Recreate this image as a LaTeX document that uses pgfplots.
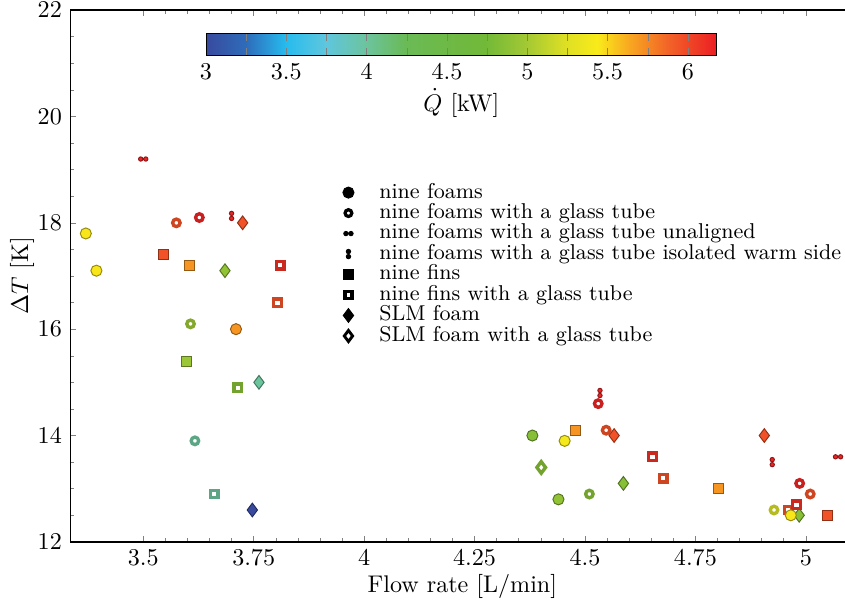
\documentclass[border=0pt]{standalone}
\usepackage{pgfplots}
\pgfplotsset{compat=1.18}
\usetikzlibrary{calc}

% two small dots side by side / one above the other
\pgfdeclareplotmark{hdots}{%
  \pgfpathcircle{\pgfpoint{-1.05pt}{0pt}}{0.9pt}%
  \pgfpathcircle{\pgfpoint{1.05pt}{0pt}}{0.9pt}%
  \pgfusepathqfillstroke}
\pgfdeclareplotmark{vdots}{%
  \pgfpathcircle{\pgfpoint{0pt}{-1.05pt}}{0.9pt}%
  \pgfpathcircle{\pgfpoint{0pt}{1.05pt}}{0.9pt}%
  \pgfusepathqfillstroke}

\pgfplotsset{
  colormap={qmap}{[1pt]
    rgb255(0pt)=(57,74,158)
    rgb255(5pt)=(46,108,186)
    rgb255(10pt)=(38,188,238)
    rgb255(15pt)=(95,198,222)
    rgb255(20pt)=(108,196,158)
    rgb255(25pt)=(106,186,86)
    rgb255(35pt)=(114,185,56)
    rgb255(40pt)=(162,200,52)
    rgb255(45pt)=(222,223,36)
    rgb255(49pt)=(249,235,26)
    rgb255(53pt)=(248,168,32)
    rgb255(58pt)=(242,98,40)
    rgb255(64pt)=(236,30,36)
  },
  filled/.style={scatter, only marks, point meta=explicit, forget plot,
    scatter/use mapped color={draw=mapped color!60!black, fill=mapped color},
    mark options={line width=0.4pt}},
  hollow/.style={scatter, only marks, point meta=explicit, forget plot,
    scatter/use mapped color={draw=mapped color!85!black, fill=white},
    mark options={line width=1.4pt}},
}

\begin{document}
\begin{tikzpicture}
\begin{axis}[
  scale only axis,
  width=325.4pt, height=220.7pt,
  xmin=3.335, xmax=5.11, ymin=12, ymax=22,
  xtick={3.5,3.75,4,4.25,4.5,4.75,5},
  ytick={12,14,16,18,20,22},
  minor x tick num=4, minor y tick num=3,
  tick align=inside, xtick pos=both, ytick pos=left,
  major tick length=2.5pt, minor tick length=1.5pt,
  axis line style={line width=0.6pt},
  /pgf/number format/precision=2,
  xlabel={Flow rate [L/min]},
  ylabel={$\Delta T$ [K]},
  xlabel style={at={(axis description cs:0.5,0)}, anchor=center, yshift=-18.5pt},
  ylabel style={at={(axis description cs:-0.0615,0.5)}, anchor=center},
  colormap name=qmap,
  point meta min=3, point meta max=6.18,
  colorbar horizontal,
  colorbar style={
    scale only axis,
    at={($(parent axis.north west)+(56.3pt,-1.2pt)$)},
    anchor=north west,
    width=212pt, height=9.1pt,
    xtick={3,3.5,4,4.5,5,5.5,6},
    minor x tick num=1,
    xtick pos=both, xticklabel pos=lower,
    tick align=inside,
    major tick length=3pt, minor tick length=3pt,
    xlabel={$\dot{Q}$ [kW]},
    xlabel style={yshift=3pt},
    /pgf/number format/precision=2,
  },
  legend cell align=left,
  legend style={draw=none, fill=none, inner sep=0pt,
    at={(0.347,0.677)}, anchor=north west,
    nodes={inner sep=0.5pt, text height=6pt, text depth=1.5pt},
    font=\fontsize{8.9}{10}\selectfont,
    /tikz/every odd column/.append style={column sep=10pt}},
]
% SLM foam
\addplot[filled, mark=diamond*, mark size=2.85pt] table[meta=q] {
x y q
3.725 18.0 5.95
3.685 17.1 4.9
3.762 15.0 4.0
3.747 12.6 3.0
4.566 14.0 5.95
4.587 13.1 4.85
4.906 14.0 5.95
4.985 12.5 4.85
};
% SLM foam with a glass tube
\addplot[hollow, mark=diamond*, mark size=2.4pt] table[meta=q] {
x y q
4.401 13.4 4.85
};
% nine fins
\addplot[filled, mark=square*, mark size=2.1pt] table[meta=q] {
x y q
3.546 17.4 5.95
3.605 17.2 5.7
3.597 15.4 4.95
4.478 14.1 5.7
4.803 13.0 5.7
5.05 12.5 5.95
};
% nine fins with a glass tube
\addplot[hollow, mark=square*, mark size=1.55pt] table[meta=q] {
x y q
3.81 17.2 6.1
3.804 16.5 5.95
3.714 14.9 4.85
3.661 12.9 4.0
4.653 13.6 6.1
4.677 13.2 5.95
4.96 12.6 5.95
4.979 12.7 6.1
};
% nine foams with a glass tube
\addplot[hollow, mark=*, mark size=1.55pt] table[meta=q] {
x y q
3.575 18.0 5.95
3.627 18.1 6.15
3.607 16.1 4.95
3.617 13.9 4.0
4.53 14.6 6.15
4.548 14.1 5.95
4.51 12.9 4.85
4.986 13.1 6.15
5.01 12.9 5.95
4.928 12.6 5.2
};
% nine foams
\addplot[filled, mark=*, mark size=2.3pt] table[meta=q] {
x y q
3.37 17.8 5.45
3.394 17.1 5.45
3.71 16.0 5.7
4.381 14.0 4.85
4.454 13.9 5.4
4.44 12.8 4.9
4.966 12.5 5.45
};
% unaligned
\addplot[filled, mark=hdots] table[meta=q] {
x y q
3.5 19.2 6.15
5.073 13.6 6.15
};
% isolated warm side
\addplot[filled, mark=vdots] table[meta=q] {
x y q
3.7 18.13 6.15
4.534 14.8 6.15
4.924 13.5 6.15
};

\addlegendimage{only marks, mark=*, mark size=2.3pt, black}
\addlegendentry{nine foams}
\addlegendimage{only marks, mark=*, mark size=1.4pt, mark options={draw=black, fill=white, line width=1.35pt}}
\addlegendentry{nine foams with a glass tube}
\addlegendimage{only marks, mark=hdots, black}
\addlegendentry{nine foams with a glass tube unaligned}
\addlegendimage{only marks, mark=vdots, black}
\addlegendentry{nine foams with a glass tube isolated warm side}
\addlegendimage{only marks, mark=square*, mark size=2.1pt, black}
\addlegendentry{nine fins}
\addlegendimage{only marks, mark=square*, mark size=1.45pt, mark options={draw=black, fill=white, line width=1.35pt}}
\addlegendentry{nine fins with a glass tube}
\addlegendimage{only marks, mark=diamond*, mark size=2.85pt, black}
\addlegendentry{SLM foam}
\addlegendimage{only marks, mark=diamond*, mark size=2.3pt, mark options={draw=black, fill=white, line width=1.2pt}}
\addlegendentry{SLM foam with a glass tube}
\end{axis}
\pgfresetboundingbox
\path[use as bounding box] ($(current axis.south west)+(-29.2pt,-24.5pt)$) rectangle ($(current axis.south west)+(321.5pt,224.9pt)$);
\end{tikzpicture}
\end{document}
